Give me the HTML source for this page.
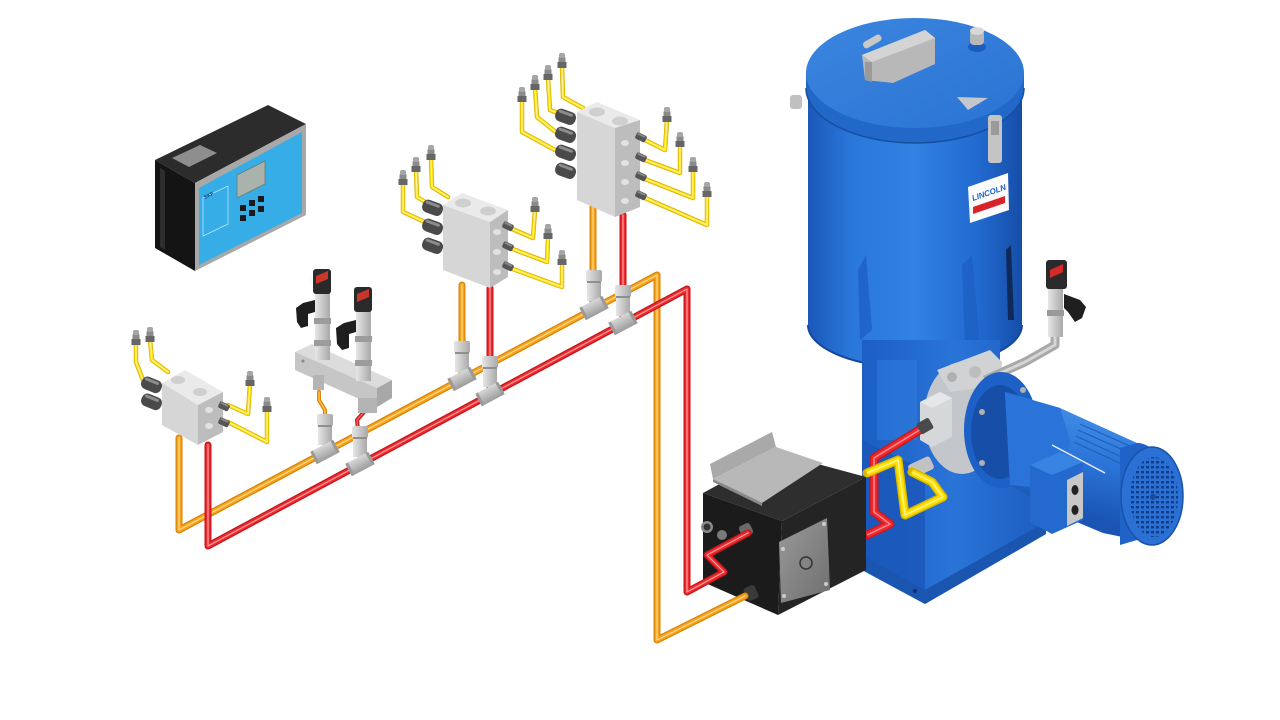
<!DOCTYPE html>
<html><head><meta charset="utf-8">
<style>html,body{margin:0;padding:0;background:#fff;}svg{display:block}</style>
</head><body>
<svg width="1280" height="720" viewBox="0 0 1280 720" xmlns="http://www.w3.org/2000/svg">
<defs>
 <linearGradient id="cyl" x1="0" x2="1" y1="0" y2="0">
  <stop offset="0" stop-color="#1a58ba"/>
  <stop offset="0.2" stop-color="#2a77da"/>
  <stop offset="0.5" stop-color="#3082e3"/>
  <stop offset="0.8" stop-color="#2169cf"/>
  <stop offset="1" stop-color="#164ea8"/>
 </linearGradient>
 <linearGradient id="lid" x1="0" y1="0" x2="1" y2="1">
  <stop offset="0" stop-color="#3b86df"/><stop offset="1" stop-color="#2b73d3"/>
 </linearGradient>
 <linearGradient id="stand" x1="0" x2="1" y1="0" y2="0">
  <stop offset="0" stop-color="#1b5ec4"/><stop offset="0.5" stop-color="#2a74d8"/><stop offset="1" stop-color="#1c5cbf"/>
 </linearGradient>
 <linearGradient id="motor" gradientUnits="userSpaceOnUse" x1="1070" y1="410" x2="1050" y2="510">
  <stop offset="0" stop-color="#3f8ce6"/><stop offset="0.5" stop-color="#2a72d6"/><stop offset="1" stop-color="#1a55b3"/>
 </linearGradient>
 <linearGradient id="gray" x1="0" x2="1"><stop offset="0" stop-color="#e6e6e6"/><stop offset="1" stop-color="#a9a9a9"/></linearGradient>
 <linearGradient id="grayv" x1="0" x2="0" y1="0" y2="1"><stop offset="0" stop-color="#d8d8d8"/><stop offset="1" stop-color="#9c9c9c"/></linearGradient>
 <linearGradient id="plate" x1="0" y1="0" x2="1" y2="1"><stop offset="0" stop-color="#9a9a9a"/><stop offset="1" stop-color="#6e6e6e"/></linearGradient>
 <pattern id="slots" width="5" height="5" patternUnits="userSpaceOnUse">
  <rect width="5" height="5" fill="#2c6fd2"/><rect x="1" y="1" width="3" height="2.4" fill="#0e3d8c"/>
 </pattern>

 <path id="po" d="M179,438 L179,530 L657,275 L657,640 L745,596" fill="none"/>
 <path id="pot" d="M319,392 L319,400 L325,410 L325,425" fill="none"/>
 <path id="pr" d="M208,445 L208,546 L687,289 L687,592 L724,572 L707,555 L748,533" fill="none"/>
 <path id="prt" d="M364,412 L357,420 L359,440" fill="none"/>
 <path id="pov" d="M462,285 L462,379 M593,207 L593,308" fill="none"/>
 <path id="prv" d="M490,288 L490,394 M623,215 L623,323" fill="none"/>
 <path id="yt" fill="none" d="M143,380 L136,362 L136,343 M168,372 L152,360 L150,340 M228,405 L248,414 L250,384 M228,422 L267,442 L267,410
  M425,222 L403,212 L403,183 M427,203 L417,197 L416,170 M448,197 L432,187 L431,158 M510,228 L533,238 L535,210 M510,248 L547,262 L548,237 M510,268 L562,287 L562,263
  M555,150 L522,132 L522,100 M557,133 L537,117 L535,88 M560,114 L550,110 L548,78 M583,108 L563,97 L562,66 M645,140 L665,150 L667,120 M645,160 L680,173 L680,145 M645,179 L693,198 L693,170 M645,198 L707,225 L707,195"/>
 <path id="pry" fill="none" d="M867,535 L890,524 L874,512 L874,458 L926,426"/>
 <path id="pyy" fill="none" d="M867,473 L898,460 L905,515 L943,497 L932,482 L912,472"/>

 <g id="nip"><rect x="-3.5" y="-9" width="7" height="6" rx="1" fill="#8a8a8a"/><rect x="-4.5" y="-4" width="9" height="6" fill="#666"/><rect x="-3" y="-13" width="6" height="5" rx="2" fill="#a6a6a6"/></g>
 <g id="out"><rect x="-11" y="-6.5" width="21" height="13" rx="5.5" fill="#4a4a4a"/><rect x="-9" y="-5" width="15" height="3" rx="1.5" fill="#8c8c8c"/></g>
 <g id="rf"><rect x="0" y="-3.5" width="11" height="7" rx="2" fill="#555"/><rect x="1" y="-3" width="8" height="2" fill="#888"/></g>
 <g id="tee">
  <rect x="-8" y="-38" width="16" height="12" rx="2" fill="url(#gray)"/>
  <rect x="-7" y="-27" width="14" height="20" fill="url(#gray)"/>
  <rect x="-7" y="-27" width="14" height="2" fill="#8f8f8f"/>
  <g transform="rotate(-28)"><rect x="-13" y="-7" width="26" height="14" rx="3" fill="url(#grayv)"/><rect x="-13" y="-7" width="3" height="14" fill="#9a9a9a"/><rect x="10" y="-7" width="3" height="14" fill="#9a9a9a"/></g>
 </g>
</defs>

<rect width="1280" height="720" fill="#fff"/>

<!-- ===== Controller ===== -->
<polygon points="155,160 268,105 306,124 195,183" fill="#2c2c2c"/>
<polygon points="155,160 195,183 195,271 155,248" fill="#141414"/>
<polygon points="160,168 165,171 165,250 160,247" fill="#2e2e2e"/>
<polygon points="195,183 306,124 306,215 195,271" fill="#a8a8a8"/>
<polygon points="199,188 302,132 302,213 199,265" fill="#36ade6"/>
<polygon points="172,158 200,145 217,153 189,167" fill="#8e8e8e"/>
<polygon points="237,175 265,161 265,184 237,198" fill="#aab3ab" stroke="#6c7a70" stroke-width="0.8"/>
<g fill="#1a1a1a">
 <rect x="240" y="205" width="6" height="6"/><rect x="249" y="200" width="6" height="6"/><rect x="258" y="196" width="6" height="6"/>
 <rect x="240" y="215" width="6" height="6"/><rect x="249" y="210" width="6" height="6"/><rect x="258" y="206" width="6" height="6"/>
</g>
<polygon points="203,198 228,186 228,224 203,236" fill="none" stroke="#e8f6ff" stroke-width="0.6"/>
<text x="205" y="199" font-family="Liberation Sans, sans-serif" font-size="5" font-weight="bold" fill="#0d3d8c" transform="rotate(-26 205 199)">SKF</text>

<!-- ===== Pump reservoir ===== -->
<path d="M808,73 L808,325 A107,43 0 0 0 1022,325 L1022,73 Z" fill="url(#cyl)"/>
<path d="M808,325 A107,43 0 0 0 1022,325" fill="none" stroke="#15479a" stroke-width="2"/>
<path d="M806,73 L806,88 A109,55 0 0 0 1024,88 L1024,73 Z" fill="#2268c9"/>
<path d="M806,88 A109,55 0 0 0 1024,88" fill="none" stroke="#174e9e" stroke-width="1.5"/>
<ellipse cx="915" cy="73" rx="109" ry="55" fill="url(#lid)"/>
<!-- reflections -->
<path d="M858,270 L866,255 L872,330 L860,340 Z" fill="#1b5cc0" opacity="0.7"/>
<path d="M962,265 L972,255 L980,345 L965,350 Z" fill="#1c5ec2" opacity="0.7"/>
<path d="M1006,250 L1011,245 L1014,320 L1008,320 Z" fill="#0c1f44" opacity="0.8"/>
<!-- lid items -->
<polygon points="862,55 925,30 935,38 935,64 893,83 865,80" fill="#b8b8b8"/>
<polygon points="862,55 925,30 935,38 872,62" fill="#d4d4d4"/>
<polygon points="865,62 872,62 872,82 865,80" fill="#9a9a9a"/>
<rect x="862" y="38" width="20" height="7" rx="3" fill="#c8c8c8" transform="rotate(-30 872 41)"/>
<ellipse cx="977" cy="47" rx="9" ry="5" fill="#1d5cc0"/>
<rect x="970" y="30" width="14" height="15" rx="4" fill="#b8b8b8"/>
<ellipse cx="977" cy="31" rx="7" ry="4" fill="#d8d8d8"/>
<polygon points="957,97 988,98 968,110" fill="#c4c8cc"/>
<rect x="790" y="95" width="12" height="14" rx="3" fill="#c0c0c0"/>
<rect x="988" y="115" width="14" height="48" rx="3" fill="#c4c4c4"/>
<rect x="991" y="121" width="8" height="14" fill="#9a9a9a"/>
<!-- LINCOLN label -->
<polygon points="968,187 1008,173 1009,210 970,223" fill="#fbfbfb"/>
<polygon points="973,207 1005,196 1005,203 973,214" fill="#d8232a"/>
<text x="973" y="201" font-family="Liberation Sans, sans-serif" font-size="8" font-weight="bold" font-style="italic" fill="#1c5fc8" transform="rotate(-19 973 201)">LINCOLN</text>

<!-- ===== Stand ===== -->
<polygon points="862,340 1000,340 1000,400 1046,510 1046,534 925,604 862,570" fill="url(#stand)"/>
<polygon points="862,555 925,590 1046,522 1046,534 925,604 862,570" fill="#1a55b0"/>
<polygon points="877,360 917,360 917,440 877,440" fill="#2e7bdc" opacity="0.6"/>
<polygon points="862,440 925,470 925,590 862,555" fill="#1a56b8" opacity="0.8"/>
<circle cx="915" cy="591" r="2" fill="#0d2f6e"/>
<!-- gray pump element -->
<ellipse cx="962" cy="418" rx="38" ry="56" fill="#c3c6ca"/>
<polygon points="937,370 990,350 1002,362 1000,385 950,392" fill="#d0d2d4"/>
<polygon points="920,402 940,392 952,398 952,437 932,447 920,440" fill="#d5d7d9"/>
<polygon points="920,402 940,392 952,398 932,408" fill="#e6e7e8"/>
<circle cx="952" cy="377" r="5" fill="#b0b0b0"/>
<circle cx="975" cy="372" r="6" fill="#bdbdbd"/>
<rect x="909" y="460" width="24" height="14" rx="3" fill="#c2c2c2" transform="rotate(-25 921 467)"/>
<!-- gray pipe to sensor -->
<polyline points="985,380 1025,362 1055,345 1055,318" fill="none" stroke="#a9a9a9" stroke-width="9" stroke-linejoin="round"/>
<polyline points="985,380 1025,362 1055,345 1055,318" fill="none" stroke="#d6d6d6" stroke-width="3" stroke-linejoin="round"/>
<!-- right sensor -->
<rect x="1048" y="287" width="15" height="50" fill="url(#gray)"/>
<rect x="1047" y="310" width="17" height="6" fill="#999"/>
<path d="M1064,294 L1080,300 L1086,307 L1082,318 L1075,322 L1068,312 L1064,308 Z" fill="#1f1f1f"/>
<rect x="1046" y="260" width="21" height="29" rx="3" fill="#2a2a2a"/>
<polygon points="1050,270 1063,264 1063,272 1050,278" fill="#d62a2a"/>

<!-- ===== Motor ===== -->
<ellipse cx="1001" cy="430" rx="37" ry="58" fill="#1d60c6"/>
<ellipse cx="1000" cy="432" rx="29" ry="47" fill="#174fa8"/>
<circle cx="982" cy="412" r="3" fill="#b0b0b0"/><circle cx="1023" cy="390" r="3" fill="#b0b0b0"/><circle cx="982" cy="463" r="3" fill="#b0b0b0"/>
<path d="M1005,392 L1060,408 L1137,443 A31,48 0 0 1 1137,540 L1103,533 L1060,515 L1010,485 Z" fill="url(#motor)"/>
<path d="M1005,392 L1060,408 L1070,440 L1062,490 L1010,485 Z" fill="#2a74d9"/>
<g stroke="#1b58b4" stroke-width="1.2" opacity="0.8">
 <line x1="1080" y1="424" x2="1130" y2="446"/><line x1="1078" y1="430" x2="1130" y2="453"/>
 <line x1="1076" y1="436" x2="1128" y2="460"/><line x1="1074" y1="442" x2="1126" y2="466"/>
</g>
<line x1="1052" y1="445" x2="1105" y2="473" stroke="#e6eef8" stroke-width="1.5"/>
<path d="M1120,448 L1137,443 A31,48 0 0 1 1137,540 L1120,545 Z" fill="#1f62c8"/>
<ellipse cx="1152" cy="496" rx="31" ry="49" fill="#2b70d4" stroke="#1a52a8" stroke-width="1.5"/>
<ellipse cx="1154" cy="497" rx="24" ry="40" fill="url(#slots)"/>
<circle cx="1153" cy="497" r="3" fill="#1a4c9a"/>
<!-- terminal box -->
<polygon points="1030,465 1060,452 1083,462 1083,520 1052,534 1030,522" fill="#2469ce"/>
<polygon points="1030,465 1060,452 1083,462 1052,475" fill="#3884e3"/>
<polygon points="1067,480 1083,472 1083,518 1067,526" fill="#c8c8c8"/>
<ellipse cx="1075" cy="490" rx="3.5" ry="5" fill="#222"/>
<ellipse cx="1075" cy="510" rx="3.5" ry="5" fill="#222"/>

<!-- ===== pump connection pipes ===== -->
<use href="#pry" stroke="#c81b20" stroke-width="9" stroke-linejoin="round" stroke-linecap="round"/>
<use href="#pry" stroke="#f0282e" stroke-width="6" stroke-linejoin="round"/>
<use href="#pry" stroke="#ff8b8b" stroke-width="1.5" stroke-linejoin="round"/>
<rect x="918" y="420" width="14" height="12" rx="2" fill="#4a4a4a" transform="rotate(-30 925 426)"/>
<use href="#pyy" stroke="#d9b800" stroke-width="9" stroke-linejoin="round" stroke-linecap="round"/>
<use href="#pyy" stroke="#ffdf00" stroke-width="6" stroke-linejoin="round"/>
<use href="#pyy" stroke="#fff38a" stroke-width="1.5" stroke-linejoin="round"/>

<!-- ===== Black control box ===== -->
<polygon points="703,493 777,453 866,477 782,521" fill="#2e2e2e"/>
<polygon points="703,493 782,521 778,615 703,582" fill="#1b1b1b"/>
<polygon points="782,521 866,477 866,570 778,615" fill="#242424"/>
<polygon points="710,464 772,432 776,447 713,479" fill="#a9a9a9"/>
<polygon points="713,479 776,447 823,463 762,503" fill="#b8b8b8"/>
<polygon points="713,479 762,503 762,506 713,482" fill="#8a8a8a"/>
<polygon points="779,542 827,518 830,590 781,603" fill="url(#plate)"/>
<circle cx="806" cy="563" r="6" fill="none" stroke="#333" stroke-width="1.5"/>
<circle cx="783" cy="549" r="2" fill="#ccc"/><circle cx="824" cy="524" r="2" fill="#ccc"/>
<circle cx="784" cy="596" r="2" fill="#ccc"/><circle cx="826" cy="584" r="2" fill="#ccc"/>
<circle cx="707" cy="527" r="6" fill="#8a8a8a"/><circle cx="707" cy="527" r="3.5" fill="#333"/>
<circle cx="722" cy="535" r="5" fill="#7a7a7a"/>
<rect x="745" y="586" width="12" height="14" rx="3" fill="#3a3a3a" transform="rotate(-25 751 593)"/>
<rect x="740" y="524" width="12" height="12" rx="3" fill="#6a6a6a" transform="rotate(-25 746 530)"/>

<!-- ===== Orange main line ===== -->
<g stroke-linejoin="round" stroke-linecap="round">
<use href="#po" stroke="#d88508" stroke-width="7"/>
<use href="#po" stroke="#f9a31d" stroke-width="4.5"/>
<use href="#po" stroke="#ffd98a" stroke-width="1.2"/>
<use href="#pov" stroke="#d88508" stroke-width="7"/>
<use href="#pov" stroke="#f9a31d" stroke-width="4.5"/>
<use href="#pov" stroke="#ffd98a" stroke-width="1.2"/>
<use href="#pot" stroke="#d88508" stroke-width="4"/>
<use href="#pot" stroke="#ffc24a" stroke-width="1.5"/>
</g>
<use href="#tee" x="325" y="452"/>
<use href="#tee" x="462" y="379"/>
<use href="#tee" x="594" y="308"/>

<!-- ===== Red main line ===== -->
<g stroke-linejoin="round" stroke-linecap="round">
<use href="#pr" stroke="#c5161b" stroke-width="7"/>
<use href="#pr" stroke="#ef2a2f" stroke-width="4.5"/>
<use href="#pr" stroke="#ffa0a0" stroke-width="1.2"/>
<use href="#prv" stroke="#c5161b" stroke-width="7"/>
<use href="#prv" stroke="#ef2a2f" stroke-width="4.5"/>
<use href="#prv" stroke="#ffa0a0" stroke-width="1.2"/>
<use href="#prt" stroke="#c5161b" stroke-width="4"/>
<use href="#prt" stroke="#ff5a5a" stroke-width="1.5"/>
</g>
<use href="#tee" x="360" y="464"/>
<use href="#tee" x="490" y="394"/>
<use href="#tee" x="623" y="323"/>

<!-- ===== Yellow outlet tubes ===== -->
<g stroke-linejoin="round" stroke-linecap="round">
<use href="#yt" stroke="#d9b400" stroke-width="4.5"/>
<use href="#yt" stroke="#ffe21a" stroke-width="2.8"/>
<use href="#yt" stroke="#fff7a8" stroke-width="0.9"/>
</g>
<g>
 <use href="#nip" x="136" y="343"/><use href="#nip" x="150" y="340"/><use href="#nip" x="250" y="384"/><use href="#nip" x="267" y="410"/>
 <use href="#nip" x="403" y="183"/><use href="#nip" x="416" y="170"/><use href="#nip" x="431" y="158"/>
 <use href="#nip" x="535" y="210"/><use href="#nip" x="548" y="237"/><use href="#nip" x="562" y="263"/>
 <use href="#nip" x="522" y="100"/><use href="#nip" x="535" y="88"/><use href="#nip" x="548" y="78"/><use href="#nip" x="562" y="66"/>
 <use href="#nip" x="667" y="120"/><use href="#nip" x="680" y="145"/><use href="#nip" x="693" y="170"/><use href="#nip" x="707" y="195"/>
</g>

<!-- ===== Distributor 1 ===== -->
<polygon points="162,383 185,370 223,392 198,405" fill="#eaeaea"/>
<polygon points="162,383 198,405 198,445 162,425" fill="#d6d6d6"/>
<polygon points="198,405 223,392 223,432 198,445" fill="#bdbdbd"/>
<ellipse cx="178" cy="380" rx="7" ry="4" fill="#cfcfcf"/><ellipse cx="200" cy="392" rx="7" ry="4" fill="#cfcfcf"/>
<use href="#out" transform="translate(152,385) rotate(22)"/>
<use href="#out" transform="translate(152,402) rotate(22)"/>
<use href="#rf" transform="translate(219,404) rotate(25)"/>
<use href="#rf" transform="translate(219,420) rotate(25)"/>
<ellipse cx="209" cy="410" rx="4" ry="3" fill="#e2e2e2"/><ellipse cx="209" cy="426" rx="4" ry="3" fill="#e2e2e2"/>

<!-- ===== Distributor 2 ===== -->
<polygon points="443,205 462,193 508,210 490,222" fill="#eaeaea"/>
<polygon points="443,205 490,222 490,288 443,270" fill="#d6d6d6"/>
<polygon points="490,222 508,210 508,277 490,288" fill="#bdbdbd"/>
<ellipse cx="463" cy="203" rx="8" ry="4.5" fill="#cfcfcf"/><ellipse cx="488" cy="211" rx="8" ry="4.5" fill="#cfcfcf"/>
<use href="#out" transform="translate(433,208) rotate(20)"/>
<use href="#out" transform="translate(433,227) rotate(20)"/>
<use href="#out" transform="translate(433,246) rotate(20)"/>
<use href="#rf" transform="translate(503,224) rotate(25)"/>
<use href="#rf" transform="translate(503,244) rotate(25)"/>
<use href="#rf" transform="translate(503,264) rotate(25)"/>
<ellipse cx="497" cy="232" rx="4" ry="3" fill="#e2e2e2"/><ellipse cx="497" cy="252" rx="4" ry="3" fill="#e2e2e2"/><ellipse cx="497" cy="272" rx="4" ry="3" fill="#e2e2e2"/>

<!-- ===== Distributor 3 ===== -->
<polygon points="577,112 597,102 640,120 615,128" fill="#eaeaea"/>
<polygon points="577,112 615,128 615,217 577,200" fill="#d6d6d6"/>
<polygon points="615,128 640,120 640,207 615,217" fill="#bdbdbd"/>
<ellipse cx="597" cy="112" rx="8" ry="4.5" fill="#cfcfcf"/><ellipse cx="620" cy="121" rx="8" ry="4.5" fill="#cfcfcf"/>
<use href="#out" transform="translate(566,117) rotate(20)"/>
<use href="#out" transform="translate(566,135) rotate(20)"/>
<use href="#out" transform="translate(566,153) rotate(20)"/>
<use href="#out" transform="translate(566,171) rotate(20)"/>
<use href="#rf" transform="translate(636,135) rotate(25)"/>
<use href="#rf" transform="translate(636,155) rotate(25)"/>
<use href="#rf" transform="translate(636,174) rotate(25)"/>
<use href="#rf" transform="translate(636,193) rotate(25)"/>
<g fill="#e2e2e2"><ellipse cx="625" cy="143" rx="4" ry="3"/><ellipse cx="625" cy="163" rx="4" ry="3"/><ellipse cx="625" cy="182" rx="4" ry="3"/><ellipse cx="625" cy="201" rx="4" ry="3"/></g>

<!-- ===== Pressure sensor pair ===== -->
<polygon points="295,352 312,344 392,380 377,388" fill="#dcdcdc"/>
<polygon points="295,352 377,388 377,407 295,370" fill="#c6c6c6"/>
<polygon points="377,388 392,380 392,398 377,407" fill="#a8a8a8"/>
<rect x="358" y="398" width="19" height="15" fill="#b4b4b4"/>
<rect x="313" y="375" width="11" height="15" fill="#b4b4b4"/>
<circle cx="303" cy="361" r="1.5" fill="#888"/>
<!-- sensor 1 -->
<rect x="315" y="292" width="15" height="68" fill="url(#gray)"/>
<rect x="314" y="318" width="17" height="6" fill="#9c9c9c"/><rect x="314" y="340" width="17" height="6" fill="#9c9c9c"/>
<path d="M315,300 L303,303 L296,308 L297,322 L301,328 L308,326 L308,314 L315,312 Z" fill="#1e1e1e"/>
<rect x="313" y="269" width="18" height="25" rx="3" fill="#2a2a2a"/>
<polygon points="316,276 328,271 328,279 316,284" fill="#c9362a"/>
<!-- sensor 2 -->
<rect x="356" y="309" width="15" height="72" fill="url(#gray)"/>
<rect x="355" y="336" width="17" height="6" fill="#9c9c9c"/><rect x="355" y="360" width="17" height="6" fill="#9c9c9c"/>
<path d="M356,320 L344,323 L336,328 L337,344 L342,350 L349,348 L349,334 L356,332 Z" fill="#1e1e1e"/>
<rect x="354" y="287" width="18" height="25" rx="3" fill="#2a2a2a"/>
<polygon points="357,294 369,289 369,297 357,302" fill="#c9362a"/>
</svg>
</body></html>
